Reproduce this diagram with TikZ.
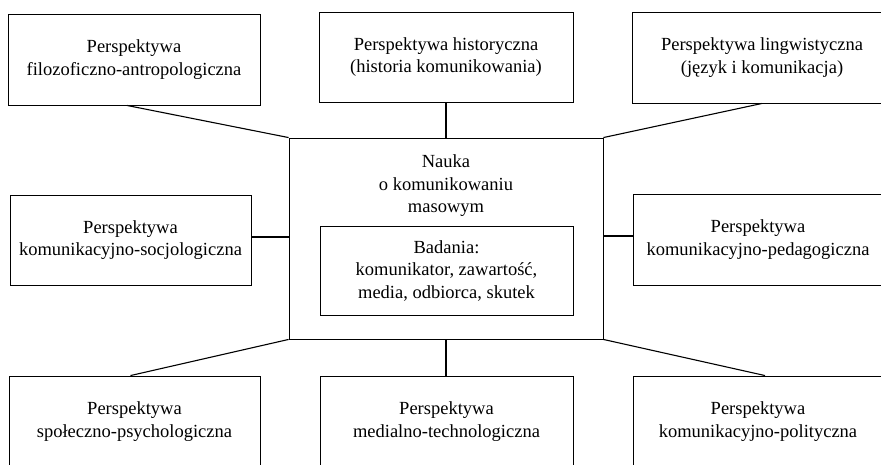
\documentclass[tikz,border=0pt]{standalone}
\usepackage{fontspec}
\setmainfont{Liberation Serif}
\begin{document}
\begin{tikzpicture}[x=1pt,y=-1pt,
  pbox/.style={draw, line width=0.9pt, align=center, inner sep=0pt, font=\fontsize{18.5}{22.5}\selectfont},
  conn/.style={line width=1.1pt}]
\useasboundingbox (0,0) rectangle (881,464);
\clip (0,0) rectangle (881,464);
% outer nodes
\node[pbox, minimum width=252, minimum height=91] (tl) at (134,59.5) {Perspektywa\\filozoficzno-antropologiczna};
\node[pbox, minimum width=254, minimum height=90] (tc) at (446,57) {Perspektywa historyczna\\(historia komunikowania)};
\node[pbox, minimum width=260, minimum height=91] (tr) at (762,57.5) {Perspektywa lingwistyczna\\(język i komunikacja)};
\node[pbox, minimum width=241, minimum height=90] (ml) at (130.5,240) {Perspektywa\\komunikacyjno-socjologiczna};
\node[pbox, minimum width=250, minimum height=91] (mr) at (758,239.5) {Perspektywa\\komunikacyjno-pedagogiczna};
\node[pbox, minimum width=251, minimum height=91] (bl) at (134.5,421.5) {Perspektywa\\społeczno-psychologiczna};
\node[pbox, minimum width=253, minimum height=91] (bc) at (446.5,421.5) {Perspektywa\\medialno-technologiczna};
\node[pbox, minimum width=250, minimum height=91] (br) at (758,421.5) {Perspektywa\\komunikacyjno-polityczna};
% centre
\node[pbox, minimum width=314, minimum height=201] (c) at (446,238.5) {};
\node[align=center, inner sep=0pt, font=\fontsize{18.5}{22.5}\selectfont] (ct) at (446,186) {Nauka\\o komunikowaniu\\masowym};
\node[pbox, minimum width=253, minimum height=89] (in) at (446.5,270.5) {Badania:\\komunikator, zawartość,\\media, odbiorca, skutek};
% connectors
\draw[conn] ([xshift=-7]tl.south) -- (c.north west);
\draw[conn] (c.north) -- (c.north |- tc.south);
\draw[conn] (tr.south) -- (c.north east);
\draw[conn] ([yshift=3]ml.east) -- ([yshift=3]ml.east -| c.west);
\draw[conn] ([yshift=3.5]mr.west) -- ([yshift=3.5]mr.west -| c.east);
\draw[conn] ([xshift=-4]bl.north) -- (c.south west);
\draw[conn] (c.south) -- (c.south |- bc.north);
\draw[conn] ([xshift=7]br.north) -- (c.south east);
\end{tikzpicture}
\end{document}
